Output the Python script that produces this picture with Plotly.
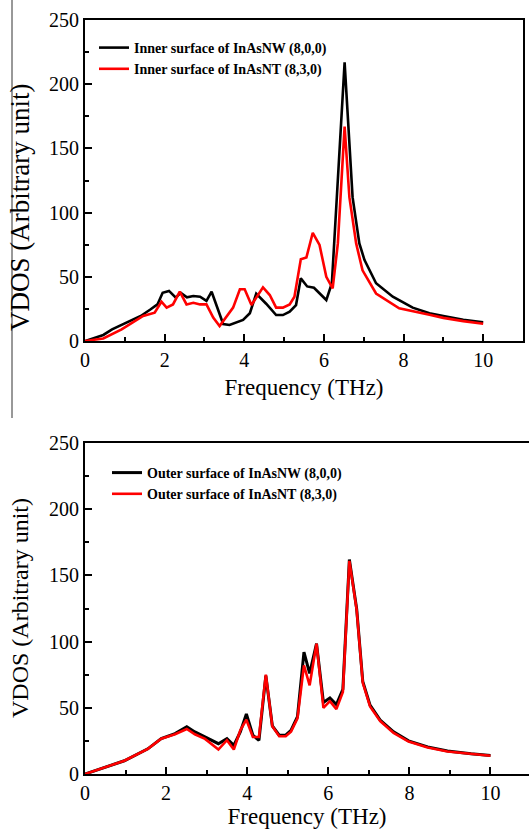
import plotly.graph_objects as go

# ---------------- data ----------------
inner_nw_freq = [0, 0.46, 0.68, 0.92, 1.14, 1.40, 1.65, 1.82, 1.95, 2.11, 2.28, 2.40, 2.56, 2.72, 2.89, 3.05,
                 3.18, 3.47, 3.63, 3.97, 4.14, 4.30, 4.55, 4.80, 4.97, 5.14, 5.30, 5.42, 5.58, 5.75, 6.06,
                 6.20, 6.52, 6.72, 6.89, 7.02, 7.31, 7.73, 8.23, 8.65, 9.0, 9.5, 10.0]
inner_nw_vdos = [0, 4.7, 9, 12.5, 15.6, 19.5, 24.7, 28.5, 37.6, 39, 33.8, 37.6, 34, 35, 34.5, 31.2,
                 38.4, 13.2, 12.5, 16.4, 21.6, 36.9, 29, 20.2, 20.2, 22.8, 28, 48.8, 42.5, 41.5, 31.9,
                 45, 217, 112, 76, 63, 45, 34.5, 26, 21.6, 19.5, 16.5, 14.5]

inner_nt_freq = [0, 0.46, 0.92, 1.21, 1.46, 1.75, 1.92, 2.05, 2.21, 2.38, 2.55, 2.72, 2.89, 3.05, 3.22,
                 3.38, 3.72, 3.89, 4.01, 4.18, 4.47, 4.64, 4.80, 4.97, 5.14, 5.26, 5.42, 5.56, 5.72, 5.89,
                 6.06, 6.22, 6.35, 6.52, 6.64, 6.81, 6.97, 7.31, 7.89, 8.65, 9.0, 9.5, 10.0]
inner_nt_vdos = [0, 2, 9, 14.3, 19.5, 22, 30.6, 26, 28.5, 38.4, 28.5, 29.8, 28.5, 28.5, 18.2,
                 11.7, 26, 40.3, 40.3, 28, 41.8, 35.8, 26, 26, 28.5, 34.5, 63.6, 65, 84.3, 74.8,
                 50, 41, 76, 167, 112, 76, 55, 37, 25.5, 20.5, 18, 15.5, 13.5]

outer_freq = [0, 0.39, 0.97, 1.55, 1.88, 2.22, 2.51, 2.71, 2.96, 3.29, 3.50, 3.67, 3.83, 3.98, 4.14,
              4.29, 4.46, 4.62, 4.79, 4.95, 5.08, 5.24, 5.40, 5.54, 5.71, 5.88, 6.04, 6.20, 6.36, 6.52,
              6.70, 6.85, 7.03, 7.28, 7.61, 7.98, 8.45, 8.94, 9.52, 10.0]
outer_nw_vdos = [0, 3.8, 10, 19, 26.7, 30.5, 35.6, 31.8, 28, 22.9, 26.7, 21.6, 31.8, 45.3, 29.3,
                 25.4, 74.3, 36.4, 29.3, 29.3, 33, 43.3, 92, 76, 98.5, 54, 57.5, 52.5, 64, 162,
                 124.7, 70, 52, 40.7, 31.8, 25, 20.5, 17.3, 15.3, 14]
outer_nt_vdos = [0, 3.8, 10, 19, 26.7, 30, 34, 30, 26.5, 18.5, 25.5, 18.5, 33, 41, 28,
                 28, 75, 36, 28.5, 28.5, 32, 42, 82, 67, 98.5, 50, 55, 49, 62, 161,
                 124, 69, 51, 40, 31, 24.5, 20, 17, 15, 13.8]

x_tick_vals = [0, 2, 4, 6, 8, 10]
y_tick_vals = [0, 50, 100, 150, 200, 250]

W, H = 529, 829
FONT = "Liberation Serif"

fig = go.Figure()
fig.add_trace(go.Scatter(x=inner_nw_freq, y=inner_nw_vdos, mode="lines", name="Inner surface of InAsNW (8,0,0)",
                         line=dict(color="#000000", width=2.6), xaxis="x", yaxis="y", legend="legend"))
fig.add_trace(go.Scatter(x=inner_nt_freq, y=inner_nt_vdos, mode="lines", name="Inner surface of InAsNT (8,3,0)",
                         line=dict(color="#ff0000", width=2.6), xaxis="x", yaxis="y", legend="legend"))
fig.add_trace(go.Scatter(x=outer_freq, y=outer_nw_vdos, mode="lines", name="Outer surface of InAsNW (8,0,0)",
                         line=dict(color="#000000", width=3), xaxis="x2", yaxis="y2", legend="legend2"))
fig.add_trace(go.Scatter(x=outer_freq, y=outer_nt_vdos, mode="lines", name="Outer surface of InAsNT (8,3,0)",
                         line=dict(color="#ff0000", width=2.6), xaxis="x2", yaxis="y2", legend="legend2"))

def xax(domain, rng, anchor):
    return dict(domain=domain, range=rng, anchor=anchor, tickvals=x_tick_vals, automargin=False,
                ticks="inside", ticklen=7, tickwidth=2, tickcolor="black",
                minor=dict(ticks="inside", ticklen=4, tickwidth=2, dtick=1, tick0=0, tickcolor="black"),
                showline=True, linewidth=2, linecolor="black", mirror=True,
                showgrid=False, zeroline=False,
                tickfont=dict(family=FONT, size=20, color="black"),
                title=dict(text="Frequency (THz)", font=dict(family=FONT, size=23, color="black"), standoff=9))

def yax(domain, mirror, anchor):
    return dict(domain=domain, range=[0, 250], anchor=anchor, tickvals=y_tick_vals, automargin=False,
                ticks="inside", ticklen=7, tickwidth=2, tickcolor="black",
                minor=dict(ticks="inside", ticklen=4, tickwidth=2, dtick=25, tick0=0, tickcolor="black"),
                showline=True, linewidth=2, linecolor="black", mirror=mirror,
                showgrid=False, zeroline=False,
                tickfont=dict(family=FONT, size=20, color="black"))

top_dom_y = [1 - 341 / H, 1 - 20 / H]
bot_dom_y = [1 - 774 / H, 1 - 443 / H]

fig.update_layout(
    width=W, height=H,
    margin=dict(l=0, r=0, t=0, b=0, autoexpand=False),
    paper_bgcolor="white", plot_bgcolor="white",
    font=dict(family=FONT, color="black"),
    xaxis=xax([85 / W, 523 / W], [0, 11], "y"),
    yaxis=yax(top_dom_y, True, "x"),
    xaxis2=xax([85 / W, 1.0], [0, 10.95], "y2"),
    yaxis2=yax(bot_dom_y, False, "x2"),
    legend=dict(x=94 / W, y=1 - 32 / H, xanchor="left", yanchor="top", bgcolor="rgba(0,0,0,0)",
                font=dict(family=FONT, size=14, color="black", weight="bold"),
                itemwidth=30, tracegroupgap=0),
    legend2=dict(x=107 / W, y=1 - 457 / H, xanchor="left", yanchor="top", bgcolor="rgba(0,0,0,0)",
                 font=dict(family=FONT, size=14, color="black", weight="bold"),
                 itemwidth=30, tracegroupgap=0),
    showlegend=True,
)

fig.add_annotation(text="VDOS (Arbitrary unit)", textangle=-90, xref="paper", yref="paper",
                   x=20 / W, y=1 - 208 / H, xanchor="center", yanchor="middle", showarrow=False,
                   font=dict(family=FONT, size=27, color="black"))
fig.add_annotation(text="VDOS (Arbitrary unit)", textangle=-90, xref="paper", yref="paper",
                   x=20 / W, y=1 - 608 / H, xanchor="center", yanchor="middle", showarrow=False,
                   font=dict(family=FONT, size=24, color="black"))

fig.add_shape(type="line", xref="paper", yref="paper", x0=12 / W, x1=12 / W, y0=1, y1=1 - 418 / H,
              line=dict(color="#333333", width=1))

fig.write_html("out.html", config={"displayModeBar": False},
               post_script="document.body.style.margin='0px';document.body.style.overflow='hidden';")
